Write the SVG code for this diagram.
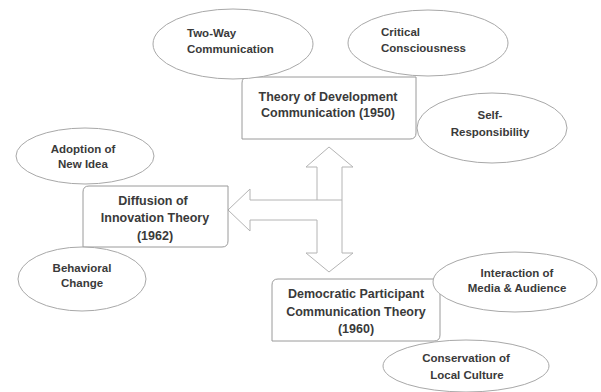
<svg xmlns="http://www.w3.org/2000/svg" width="601" height="392" viewBox="0 0 601 392">
<style>
.box{fill:#fff;stroke:#9a9a9a;stroke-width:1}
.ell{fill:#fff;stroke:#a8a8a8;stroke-width:1}
.arr{fill:#fff;stroke:#b4b4b4;stroke-width:1;stroke-linejoin:miter}
.bt{font-family:"Liberation Sans",Arial,sans-serif;font-weight:bold;font-size:12.5px;fill:#3a3a3a;text-anchor:middle}
.et{font-family:"Liberation Sans",Arial,sans-serif;font-weight:bold;font-size:11.5px;fill:#3a3a3a;text-anchor:middle}
.el{text-anchor:start}
</style>
<rect width="601" height="392" fill="#fff"/>
<g id="connectors">
<path class="arr" d="M329,147 L353,167 L342,167 L342,253 L353,253 L329,272 L306,253 L317,253 L317,220 L250,220 L250,231 L228,210 L250,189 L250,200 L317,200 L317,167 L306,167 Z"/>
<line class="arr" x1="317" y1="200" x2="342" y2="200"/>
</g>
<g id="theory-development">
<path class="box" d="M248,77 H416 V133 Q416,139 410,139 H242 V83 Q242,77 248,77 Z"/>
<text class="bt" x="328" y="101">Theory of Development</text>
<text class="bt" x="328" y="117">Communication (1950)</text>
</g>
<g id="diffusion">
<path class="box" d="M89,186 H228 V241 Q228,247 222,247 H83 V192 Q83,186 89,186 Z"/>
<text class="bt" x="153" y="205">Diffusion of</text>
<text class="bt" x="155" y="222">Innovation Theory</text>
<text class="bt" x="155" y="240">(1962)</text>
</g>
<g id="democratic">
<path class="box" d="M278,279 H440 V335 Q440,341 434,341 H272 V285 Q272,279 278,279 Z"/>
<text class="bt" x="356" y="298">Democratic Participant</text>
<text class="bt" x="356" y="316">Communication Theory</text>
<text class="bt" x="356" y="333">(1960)</text>
</g>
<g id="two-way">
<ellipse class="ell" cx="233" cy="44" rx="80" ry="35"/>
<text class="et el" x="187" y="37">Two-Way</text>
<text class="et el" x="187" y="53">Communication</text>
</g>
<g id="critical">
<ellipse class="ell" cx="428" cy="43" rx="80" ry="33"/>
<text class="et el" x="381" y="36">Critical</text>
<text class="et el" x="381" y="52">Consciousness</text>
</g>
<g id="self-responsibility">
<ellipse class="ell" cx="492" cy="128" rx="75" ry="35"/>
<text class="et" x="490" y="119">Self-</text>
<text class="et" x="490" y="136">Responsibility</text>
</g>
<g id="adoption">
<ellipse class="ell" cx="85" cy="156" rx="69" ry="28"/>
<text class="et" x="83" y="153">Adoption of</text>
<text class="et" x="83" y="168">New Idea</text>
</g>
<g id="behavioral">
<ellipse class="ell" cx="82" cy="279" rx="64" ry="32"/>
<text class="et" x="82" y="272">Behavioral</text>
<text class="et" x="82" y="287">Change</text>
</g>
<g id="interaction">
<ellipse class="ell" cx="515" cy="282" rx="82" ry="30"/>
<text class="et" x="517" y="277">Interaction of</text>
<text class="et" x="517" y="292">Media &amp; Audience</text>
</g>
<g id="conservation">
<ellipse class="ell" cx="466" cy="366" rx="83" ry="26"/>
<text class="et" x="466" y="362">Conservation of</text>
<text class="et" x="467" y="379">Local Culture</text>
</g>
</svg>
